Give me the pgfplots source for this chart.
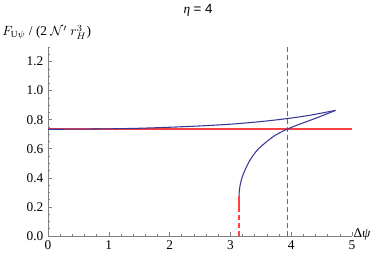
\documentclass[border=0pt]{standalone}
\usepackage{pgfplots}
\pgfplotsset{compat=1.18}
\usepackage{fontspec}
\setmainfont{Liberation Serif}
\newfontfamily\sansf{Liberation Sans}
\definecolor{mblue}{rgb}{0.22,0.22,0.6}
\definecolor{mdash}{rgb}{0.36,0.36,0.78}
\definecolor{mred}{rgb}{1,0.25,0.25}
\definecolor{axgray}{rgb}{0.5,0.5,0.5}
\begin{document}
\begin{tikzpicture}
\begin{axis}[
 at={(0,0)}, anchor=south west,
 scale only axis, width=228pt, height=141.75pt,
 xmin=0, xmax=5, ymin=0, ymax=1.3,
 axis lines=left, axis line style={-, draw=axgray, line width=0.5pt},
 xtick={0,1,2,3,4,5}, ytick={0,0.2,0.4,0.6,0.8,1.0,1.2},
 minor xtick={0,0.2,...,5},
 minor ytick={0,0.05,...,1.3},
 tick align=inside, major tick length=3pt, minor tick length=1.8pt,
 tick style={draw=axgray, line width=0.4pt},
 yticklabel style={/pgf/number format/.cd, fixed, fixed zerofill, precision=1},
 xticklabel style={/pgf/number format/.cd, fixed, precision=0},
 /pgf/number format/assume math mode=true,
 clip=false,
]
% red horizontal line
\addplot[draw=mred, line width=1.3pt] coordinates {(0,0.734) (5,0.734)};
% dashed vertical blue
\addplot[draw=mdash, line width=0.9pt, dash pattern=on 3.75pt off 2.25pt] coordinates {(3.94,0) (3.94,1.3)};
% upper branch
\addplot[draw=mblue, line width=0.8pt, smooth] coordinates {
(0,0.734) (0.5,0.735) (1,0.737) (1.5,0.741) (2,0.748) (2.5,0.757) (3,0.769) (3.5,0.787) (3.94,0.808) (4.3,0.830) (4.73,0.864)};
% lower branch
\addplot[draw=mblue, line width=0.8pt, smooth, tension=0.4] coordinates {
(3.1416,0.271) (3.145,0.30) (3.153,0.33) (3.165,0.36) (3.183,0.39) (3.207,0.42) (3.238,0.452) (3.275,0.485) (3.32,0.52) (3.375,0.555) (3.44,0.59) (3.52,0.622) (3.615,0.655) (3.72,0.688) (3.83,0.714) (3.94,0.736) (4.10,0.763) (4.34,0.800) (4.55,0.834) (4.73,0.864)};
% red solid segment
\addplot[draw=mred, line width=0.9pt] coordinates {(3.1416,0.19) (3.1416,0.275)};
% red dashed segment
\addplot[draw=mred, line width=0.9pt, dash pattern=on 3.75pt off 2.25pt] coordinates {(3.1416,0) (3.1416,0.19)};
\end{axis}
\node[anchor=base] at (112.5pt,167pt) {\textit{η} {\sansf = 4}};
\node[anchor=base west, inner sep=0pt] at (-34.5pt,150pt) {$F_{\mathrm{U}\psi}$ / (2 $\mathcal{N}'$ $r_H^3$)};
\node[anchor=base west, inner sep=0pt] at (229pt,-1.5pt) {Δ\textit{ψ}};
\pgfresetboundingbox
\path[use as bounding box] (-36pt,-15pt) rectangle (249.75pt,177pt);
\end{tikzpicture}
\end{document}
